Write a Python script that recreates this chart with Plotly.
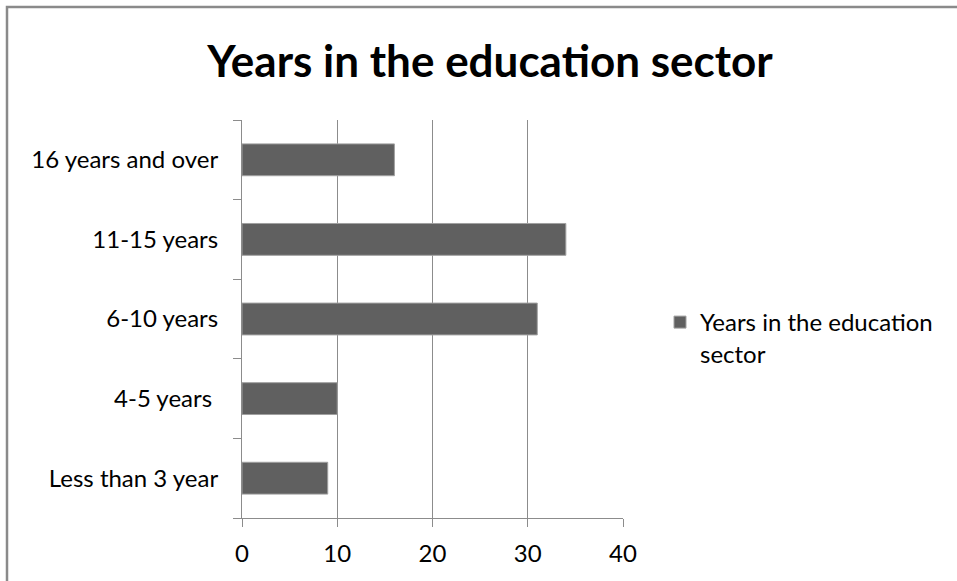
import plotly.graph_objects as go

categories = ["Less than 3 year", "4-5 years ", "6-10 years", "11-15 years", "16 years and over"]
values = [9, 10, 31, 34, 16]
series_name = "Years in the education<br>sector"
title_text = "Years in the education sector"
x_ticks = [0, 10, 20, 30, 40]

W, H = 957, 581
L, R, T, B = 242, 623, 120, 518

fig = go.Figure()
fig.add_trace(go.Bar(
    y=categories, x=values, orientation="h", name=series_name,
    marker=dict(color="#606060", line=dict(color="#a0a0a0", width=1)),
    width=0.4, showlegend=True,
))

font_family = "Lato, Open Sans, sans-serif"
fig.update_layout(
    width=W, height=H,
    margin=dict(l=L, r=W - R, t=T, b=H - B, pad=0),
    paper_bgcolor="white", plot_bgcolor="white",
    title=dict(text="<b>" + title_text + "</b>", x=(490) / W, xanchor="center",
               y=1 - 62 / H, yanchor="middle",
               font=dict(family=font_family, size=44, color="#000000")),
    font=dict(family=font_family, size=24, color="#000000"),
    showlegend=True,
    legend=dict(x=(660 - L) / (R - L), y=(518 - 338) / (B - T), xanchor="left", yanchor="middle",
                font=dict(family=font_family, size=24, color="#000000"), valign="top",
                bgcolor="rgba(0,0,0,0)", itemwidth=30, tracegroupgap=0),
    xaxis=dict(range=[0, 40], tickvals=x_ticks, showgrid=True, gridcolor="#8c8c8c", gridwidth=1,
               showline=True, linecolor="#8c8c8c", linewidth=1, ticks="outside", ticklen=8,
               tickcolor="#8c8c8c", zeroline=False, ticklabelstandoff=6,
               tickfont=dict(family=font_family, size=24, color="#000000"), fixedrange=True),
    yaxis=dict(type="category", categoryorder="array", categoryarray=categories,
               showline=True, linecolor="#8c8c8c", linewidth=1, ticks="outside", ticklen=8,
               tickcolor="#8c8c8c", tickson="boundaries", showgrid=False, ticklabelstandoff=18,
               tickfont=dict(family=font_family, size=24, color="#000000"), fixedrange=True),
    shapes=[dict(type="rect", xref="paper", yref="paper",
                 x0=(7 - L) / (R - L), x1=2.0, y0=-1.0, y1=(B - 7) / (B - T),
                 line=dict(color="#8a8a8a", width=2.5), fillcolor="rgba(0,0,0,0)", layer="below")],
)

fig.write_html("out.html")
